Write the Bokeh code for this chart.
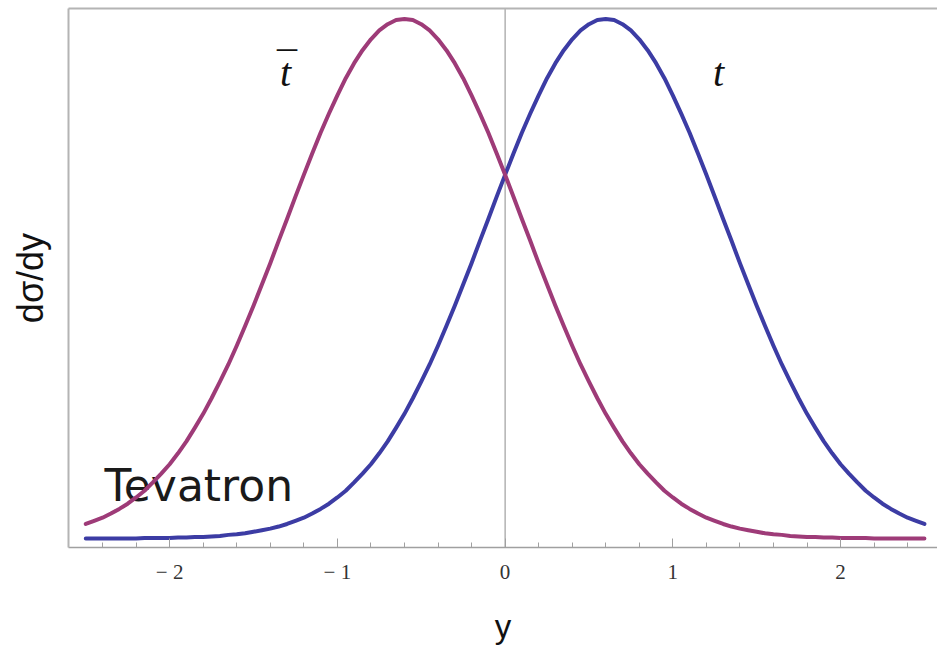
from bokeh.plotting import figure
from bokeh.models import Range1d, LinearAxis, FixedTicker, Span
from bokeh.core.properties import value
from bokeh.embed import file_html
from bokeh.resources import INLINE
import numpy as np

# rapidity grid and differential cross sections (arbitrary units)
rapidity = [round(-2.5 + 0.05 * i, 2) for i in range(101)]
top_quark = [0.000, 0.000, 0.000, 0.000, 0.000, 0.000, 0.000,
             0.001, 0.001, 0.001, 0.001,
             0.002, 0.002, 0.003, 0.003, 0.004, 0.005, 0.007, 0.008, 0.010,
             0.013, 0.016, 0.019, 0.023,
             0.028, 0.034, 0.040, 0.048, 0.057, 0.067, 0.079, 0.092, 0.108, 0.125,
             0.143, 0.164, 0.187, 0.213, 0.240, 0.270, 0.302, 0.335, 0.371, 0.409,
             0.448, 0.489, 0.530, 0.573, 0.615, 0.658, 0.700, 0.741, 0.781, 0.818,
             0.853, 0.886, 0.915, 0.940, 0.961, 0.978, 0.990, 0.998,
             1.000,
             0.998, 0.990, 0.978, 0.961, 0.940, 0.915, 0.886, 0.853, 0.818, 0.781,
             0.741, 0.700, 0.658, 0.615, 0.573, 0.530, 0.489, 0.448, 0.409, 0.371,
             0.335, 0.302, 0.270, 0.240, 0.213, 0.187, 0.164, 0.143, 0.125, 0.108,
             0.092, 0.079, 0.067, 0.057, 0.048, 0.040, 0.034, 0.028]
anti_top = [0.028, 0.034, 0.040, 0.048, 0.057, 0.067, 0.079, 0.092, 0.108, 0.125,
            0.143, 0.164, 0.187, 0.213, 0.240, 0.270, 0.302, 0.335, 0.371, 0.409,
            0.448, 0.489, 0.530, 0.573, 0.615, 0.658, 0.700, 0.741, 0.781, 0.818,
            0.853, 0.886, 0.915, 0.940, 0.961, 0.978, 0.990, 0.998,
            1.000,
            0.998, 0.990, 0.978, 0.961, 0.940, 0.915, 0.886, 0.853, 0.818, 0.781,
            0.741, 0.700, 0.658, 0.615, 0.573, 0.530, 0.489, 0.448, 0.409, 0.371,
            0.335, 0.302, 0.270, 0.240, 0.213, 0.187, 0.164, 0.143, 0.125, 0.108,
            0.092, 0.079, 0.067, 0.057, 0.048, 0.040, 0.034, 0.028,
            0.023, 0.019, 0.016, 0.013, 0.010, 0.008, 0.007, 0.005, 0.004,
            0.003, 0.003, 0.002, 0.002,
            0.001, 0.001, 0.001, 0.001,
            0.000, 0.000, 0.000, 0.000, 0.000, 0.000, 0.000]
major_ticks = [-2, -1, 0, 1, 2]
tick_labels = {-2: "\u2212 2", -1: "\u2212 1", 0: "0", 1: "1", 2: "2"}

BLUE = "#3c3ca4"
PURPLE = "#9e3b78"
FRAME = "#b4b4b4"

p = figure(width=937, height=647, output_backend="svg", toolbar_location=None,
           x_range=Range1d(-2.603, 2.578), y_range=Range1d(-0.0173, 1.0202),
           x_axis_location=None, y_axis_location=None,
           min_border_left=68, min_border_right=0, min_border_top=8, min_border_bottom=99)
p.grid.visible = False
p.outline_line_color = None
p.background_fill_color = "white"
p.border_fill_color = "white"

minor = [round(v, 1) for v in np.arange(-2.4, 2.45, 0.2) if abs(round(v, 1) - round(v)) > 1e-6]
bottom = LinearAxis(ticker=FixedTicker(ticks=major_ticks, minor_ticks=minor),
                    major_label_overrides=tick_labels)
bottom.axis_line_color = "#a0a0a0"
bottom.axis_line_width = 1.5
bottom.major_tick_line_color = "#a0a0a0"
bottom.minor_tick_line_color = "#a0a0a0"
bottom.major_tick_in = 9
bottom.major_tick_out = 0
bottom.minor_tick_in = 5
bottom.minor_tick_out = 0
bottom.major_label_text_font = "Liberation Serif"
bottom.major_label_text_font_size = "21px"
bottom.major_label_text_color = "#333333"
bottom.major_label_standoff = 12
bottom.axis_label = "y"
bottom.axis_label_text_font = "Liberation Sans"
bottom.axis_label_text_font_style = "normal"
bottom.axis_label_text_font_size = "33px"
bottom.axis_label_text_color = "#111111"
bottom.axis_label_standoff = 21
p.add_layout(bottom, "below")

left = LinearAxis(ticker=FixedTicker(ticks=[]))
left.axis_line_color = FRAME
left.axis_line_width = 2
left.major_tick_line_color = None
left.minor_tick_line_color = None
left.axis_label = "d\u03c3/dy"
left.axis_label_text_font = "Liberation Sans"
left.axis_label_text_font_style = "normal"
left.axis_label_text_font_size = "36px"
left.axis_label_text_color = "#111111"
left.axis_label_standoff = 18
p.add_layout(left, "left")

top = LinearAxis(ticker=FixedTicker(ticks=[]))
top.axis_line_color = FRAME
top.axis_line_width = 2
top.major_tick_line_color = None
top.minor_tick_line_color = None
top.major_label_text_font_size = "0px"
p.add_layout(top, "above")

zero_line = Span(location=0, dimension="height", line_color="#8c8c8c", line_width=1, level="underlay")
p.add_layout(zero_line)

# collider label sits under the curves
p.text(x=[-2.389], y=[0.102], text=["Tevatron"], text_font=value("DejaVu Sans"),
       text_font_size=value("44px"), text_align="left", text_baseline="alphabetic",
       text_color="#1a1a1a")

p.line(rapidity, top_quark, line_color=BLUE, line_width=4, line_join="round", line_cap="round")
p.line(rapidity, anti_top, line_color=PURPLE, line_width=4, line_join="round", line_cap="round")

p.text(x=[1.272], y=[0.897], text=["t"], text_font=value("Liberation Serif"),
       text_font_style="italic", text_font_size=value("40px"), text_align="center",
       text_baseline="alphabetic", text_color="#111111")
p.text(x=[-1.309], y=[0.897], text=["t"], text_font=value("Liberation Serif"),
       text_font_style="italic", text_font_size=value("40px"), text_align="center",
       text_baseline="alphabetic", text_color="#111111")
p.text(x=[-1.300], y=[0.897], text=["\u00af"], text_font=value("Liberation Serif"),
       text_font_size=value("40px"), text_align="center",
       text_baseline="alphabetic", text_color="#111111", y_offset=-6)

open("out.html", "w").write(file_html(p, INLINE))
